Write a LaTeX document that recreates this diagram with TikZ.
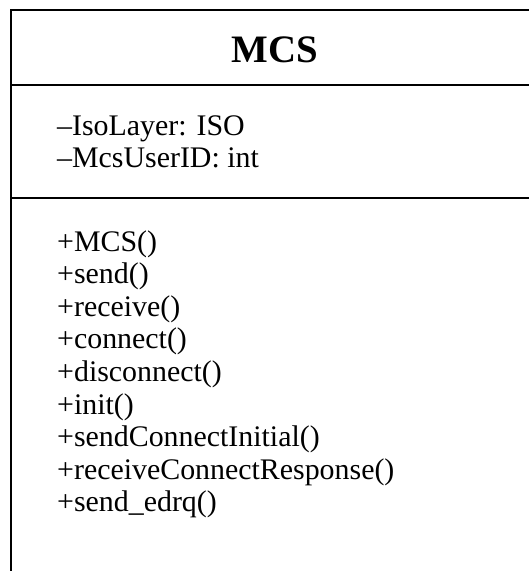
\documentclass[tikz,border=0pt]{standalone}
\usepackage{fontspec}
\setmainfont{Liberation Serif}
\begin{document}
\begin{tikzpicture}[x=1bp,y=-1bp,
  frame/.style={line width=2bp,draw=black},
  title/.style={font=\fontsize{39}{44}\selectfont\bfseries,inner sep=0pt,anchor=base},
  member/.style={font=\fontsize{30}{34}\selectfont,inner sep=0pt,anchor=base west}]
\useasboundingbox (0,0) rectangle (529,571);
\clip (0,0) rectangle (529,571);
% class box, running past the right and bottom edges
\draw[frame] (11,10) rectangle (560,600);
\draw[frame] (11,85.5) -- (560,85.5);
\draw[frame] (11,198) -- (560,198);
% name compartment
\node[title] (name) at (275,63) {MCS};
% attributes
\node[member] (a1) at (57,136) {–IsoLayer: ISO};
\node[member] (a2) at (57,168) {–McsUserID: int};
% operations
\node[member] (o1) at (57,251) {+MCS()};
\node[member] (o2) at (57,283.6) {+send()};
\node[member] (o3) at (57,316.2) {+receive()};
\node[member] (o4) at (57,348.8) {+connect()};
\node[member] (o5) at (57,381.4) {+disconnect()};
\node[member] (o6) at (57,414) {+init()};
\node[member] (o7) at (57,446.6) {+sendConnectInitial()};
\node[member] (o8) at (57,479.2) {+receiveConnectResponse()};
\node[member] (o9) at (57,511.8) {+send\_edrq()};
\end{tikzpicture}
\end{document}
